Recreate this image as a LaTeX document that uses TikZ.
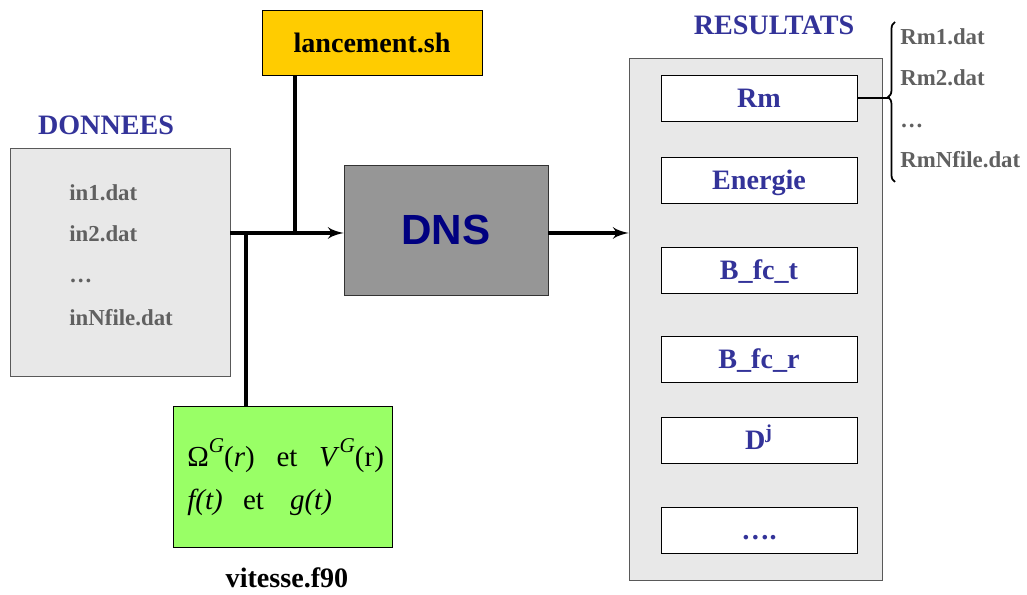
\documentclass[tikz,border=0pt]{standalone}
\usepackage{fontspec}
\setmainfont{Liberation Serif}
\setsansfont{Liberation Sans}
\usepackage{tikz}
\usetikzlibrary{arrows,decorations.pathreplacing}
\definecolor{titleblue}{HTML}{333399}
\definecolor{dnsblue}{HTML}{000080}
\definecolor{filegray}{HTML}{606060}
\definecolor{panel}{HTML}{E8E8E8}
\definecolor{gold}{HTML}{FFCC00}
\definecolor{vitgreen}{HTML}{99FF66}
\newcommand{\supG}{\raisebox{0.5em}{\fontsize{12}{14}\selectfont\textit{G}}}
\tikzset{title/.style = {font = \fontsize{16}{19}\selectfont\bfseries, text = titleblue}}
\tikzset{file/.style = {anchor = base west, inner sep = 0pt, font = \fontsize{13}{16}\selectfont\bfseries, text = filegray}}
\tikzset{cell/.style = {draw, fill = white, minimum width = 3.92cm, minimum height = 0.92cm, text height = 14pt, text depth = 3.4pt, font = \fontsize{16}{19}\selectfont\bfseries, text = titleblue}}
\tikzset{edge/.style = {->, > = latex', line width = 2.1pt}}

\begin{document}
\begin{tikzpicture}
			\useasboundingbox (0, 0) rectangle (20.54, 11.9);

			\node[draw = gray!70!black, fill = panel, minimum width = 4.4cm, minimum height = 4.56cm] (don) at (2.4, 6.66) {};
			\node[draw, fill = gold, minimum width = 4.4cm, minimum height = 1.3cm, font = \fontsize{16}{19}\selectfont\bfseries] (lan) at (7.44, 11.05) {lancement.sh};
			\node[draw = black!80, fill = black!41, minimum width = 4.08cm, minimum height = 2.6cm, font = \fontsize{24}{28}\selectfont\sffamily\bfseries, text = dnsblue] (dns) at (8.92, 7.3) {DNS};
			\node[draw, fill = vitgreen, minimum width = 4.38cm, minimum height = 2.82cm] (vit) at (5.65, 2.37) {};
			\node[draw = gray!70!black, fill = panel, minimum width = 5.06cm, minimum height = 10.44cm] (res) at (15.11, 5.52) {};

			\node[title] (tdon) at (2.12, 9.4) {DONNEES};
			\node[title] (tres) at (15.48, 11.4) {RESULTATS};
			\node[font = \fontsize{16}{19}\selectfont\bfseries] (tvit) at (5.74, 0.34) {vitesse.f90};

			\node[file] (in1) at (1.38, 7.88) {in1.dat};
			\node[file] (in2) at (1.38, 7.06) {in2.dat};
			\node[file] (in3) at (1.38, 6.24) {\ldots};
			\node[file] (inN) at (1.38, 5.38) {inNfile.dat};

			\node[anchor = base west, inner sep = 0pt, font = \fontsize{16.5}{19}\selectfont] (f1) at (3.74, 2.56)
				{Ω\supG(\textit{r})\hspace{0.75em}et\hspace{0.75em}\textit{V}\supG(r)};
			\node[anchor = base west, inner sep = 0pt, font = \fontsize{16.5}{19}\selectfont] (f2) at (3.74, 1.7)
				{\textit{f(t)}\hspace{0.7em}et\hspace{0.9em}\textit{g(t)}};

			\node[cell] (rm) at (15.18, 9.94) {Rm};
			\node[cell] (en) at (15.18, 8.3) {Energie};
			\node[cell] (bt) at (15.18, 6.5) {B\_fc\_t};
			\node[cell] (br) at (15.18, 4.72) {B\_fc\_r};
			\node[cell] (dj) at (15.18, 3.1) {D\textsuperscript{j}};
			\node[cell] (dd) at (15.18, 1.3) {\ldots.};

			\node[file] (rm1) at (18.0, 11.0) {Rm1.dat};
			\node[file] (rm2) at (18.0, 10.18) {Rm2.dat};
			\node[file] (rm3) at (18.0, 9.34) {\ldots};
			\node[file] (rmN) at (18.0, 8.54) {RmNfile.dat};

			\coordinate (j1) at (4.92, 7.24);
			\coordinate (j2) at (5.9, 7.24);
			\coordinate (t) at (17.8, 9.94);

			\draw[edge] (don.east |- j1) to (dns.west |- j1);
			\draw[edge] (dns.east |- j1) to (res.west |- j1);
			\draw[line width = 2.1pt] (lan.south -| j2) to (j2);
			\draw[line width = 2.1pt] (vit.north -| j1) to (j1);
			\draw[line width = 1pt] (rm.east) to (t);
			\draw[line width = 1pt, decorate, decoration = {brace, amplitude = 4pt, aspect = 0.53}] (17.9, 8.26) to (17.9, 11.46);
		\end{tikzpicture}
\end{document}
